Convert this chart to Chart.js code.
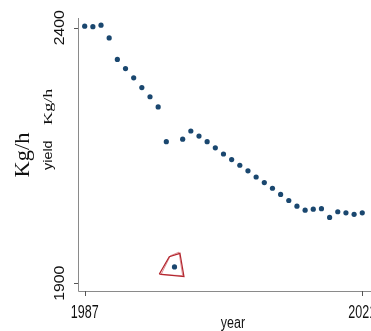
<!DOCTYPE html>
<html><head><meta charset="utf-8">
<script src="https://cdn.jsdelivr.net/npm/chart.js@4/dist/chart.umd.min.js"></script>
<style>html,body{margin:0;padding:0;background:#fff;overflow:hidden}#wrap{width:371px;height:331px;position:relative}</style>
</head><body><div id="wrap"><canvas id="c" width="371" height="331"></canvas></div>
<script>
const years = [1987,1988,1989,1990,1991,1992,1993,1994,1995,1996,1997,1998,1999,2000,2001,2002,2003,2004,2005,2006,2007,2008,2009,2010,2011,2012,2013,2014,2015,2016,2017,2018,2019,2020,2021];
const yieldVals = [2403,2402,2405,2380,2338,2320,2302,2283,2265,2245,2177,1932,2182,2198,2188,2177,2165,2153,2142,2131,2120,2108,2097,2086,2074,2062,2051,2043,2045,2046,2029,2040,2038,2035,2038];
const xTickLabels = [1987, 2021];
const yTickLabels = [1900, 2400];
const markYears = [1996.14, 1997.36, 1998.67, 1999.16, 1996.14];
const markVals = [1918, 1952, 1958.7, 1913, 1918];
const markYears2 = [1996.35, 1997.5, 1998.55, 1999.0, 1996.35];
const markVals2 = [1917, 1954, 1961, 1915, 1917];

const pts = years.map((y,i)=>({x:y,y:yieldVals[i]}));
const mk = markYears.map((y,i)=>({x:y,y:markVals[i]}));
const mk2 = markYears2.map((y,i)=>({x:y,y:markVals2[i]}));

function vtext(ctx, txt, x, y, font, stretch, align){
  ctx.save(); ctx.translate(x, y); ctx.rotate(-Math.PI/2); ctx.scale(stretch,1);
  ctx.font = font; ctx.textAlign = align || 'center'; ctx.textBaseline='alphabetic';
  ctx.fillText(txt,0,0); ctx.restore();
}

const deco = {
  id:'deco',
  afterDraw(chart){
    const {ctx, chartArea:a, scales:{x,y}} = chart;
    ctx.save();
    ctx.strokeStyle = '#8a8a8a'; ctx.lineWidth = 1;
    ctx.beginPath();
    ctx.moveTo(a.left+0.5, a.top); ctx.lineTo(a.left+0.5, a.bottom+0.5);
    ctx.lineTo(a.right, a.bottom+0.5);
    ctx.stroke();
    ctx.strokeStyle = '#555';
    ctx.beginPath();
    yTickLabels.forEach(v=>{const p=Math.round(y.getPixelForValue(v))+0.5; ctx.moveTo(a.left-4,p); ctx.lineTo(a.left,p);});
    xTickLabels.forEach(v=>{const p=Math.round(x.getPixelForValue(v))+0.5; ctx.moveTo(p,a.bottom); ctx.lineTo(p,a.bottom+5);});
    ctx.stroke();
    ctx.fillStyle = '#111';
    xTickLabels.forEach(v=>{
      const p = x.getPixelForValue(v);
      ctx.save(); ctx.translate(p, 318); ctx.scale(0.66,1);
      ctx.font = '19px "Liberation Sans", Arial, sans-serif';
      ctx.textAlign='center'; ctx.textBaseline='alphabetic';
      ctx.fillText(String(v),0,0); ctx.restore();
    });
    yTickLabels.forEach(v=>{
      vtext(ctx, String(v), 64, y.getPixelForValue(v), '15px "Liberation Sans", Arial, sans-serif', 1.05);
    });
    ctx.save(); ctx.translate(233, 328); ctx.scale(0.78,1);
    ctx.font = '16px "Liberation Sans", Arial, sans-serif';
    ctx.textAlign='center'; ctx.fillText('year',0,0); ctx.restore();
    // big y title
    vtext(ctx, 'Kg/h', 29, 155, '20px "Liberation Serif", "Times New Roman", serif', 1.12);
    // small y title
    vtext(ctx, 'yield', 52, 170, '12px "Liberation Sans", Arial, sans-serif', 1.2, 'left');
    vtext(ctx, 'Kg/h', 52, 125, '13px "Liberation Serif", "Times New Roman", serif', 1.4, 'left');
    ctx.restore();
  }
};

new Chart(document.getElementById('c'), {
  type:'scatter',
  data:{datasets:[
    {data:pts, backgroundColor:'#1a476f', borderColor:'#1a476f', pointRadius:2.6, pointBorderWidth:0, showLine:false},
    {data:mk, showLine:true, borderColor:'#b3262e', borderWidth:1.2, pointRadius:0, fill:false, tension:0},
    {data:mk2, showLine:true, borderColor:'rgba(200,60,70,0.7)', borderWidth:0.8, pointRadius:0, fill:false, tension:0}
  ]},
  options:{
    responsive:false, animation:false, events:[],
    layout:{autoPadding:false, padding:{left:78,top:18,right:0,bottom:40}},
    plugins:{legend:{display:false},tooltip:{enabled:false}},
    scales:{
      x:{type:'linear', display:false, min:1986.18, max:2022.07},
      y:{type:'linear', display:false, min:1885, max:2419}
    }
  },
  plugins:[deco]
});
</script></body></html>
